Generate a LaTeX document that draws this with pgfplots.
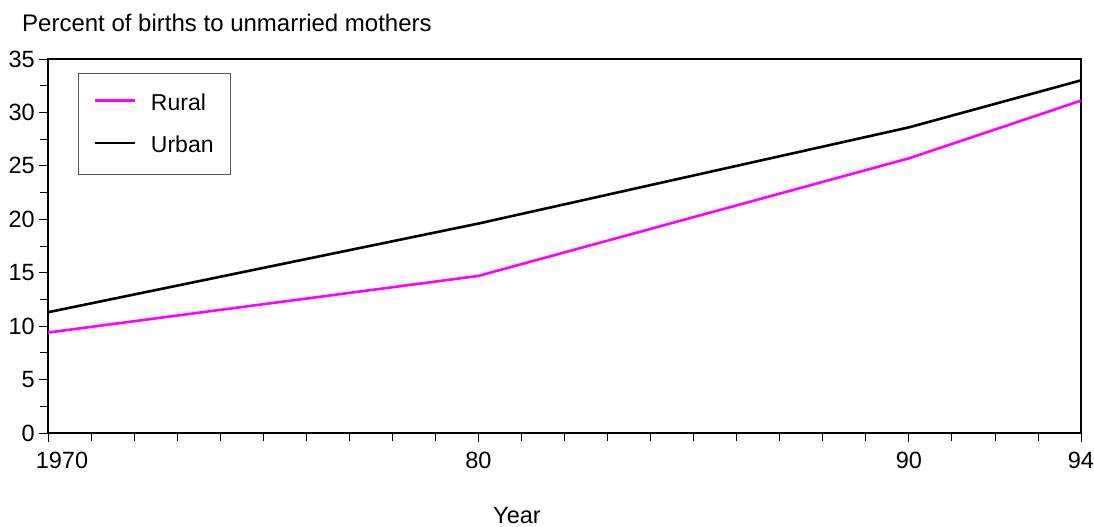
\documentclass[border=0pt]{standalone}
\usepackage{fontspec}
\setmainfont{Liberation Sans}
\usepackage{pgfplots}
\pgfplotsset{compat=1.18}
\definecolor{ruralpink}{RGB}{255,0,255}
\begin{document}
\begin{tikzpicture}
\begin{axis}[
  scale only axis, width=1033bp, height=374bp,
  xmin=1970, xmax=1994, ymin=0, ymax=35,
  axis line style={line width=1.2bp},
  xtick={1970,1980,1990,1994},
  xticklabels={\hspace*{28bp}1970,80,90,94},
  minor xtick={1971,...,1979,1981,1982,...,1989,1991,1992,1993},
  ytick={0,5,...,35},
  minor ytick={2.5,7.5,...,32.5},
  tick align=outside, tick pos=left,
  major tick length=9bp, minor tick length=8bp,
  every tick/.style={black, line width=0.8bp},
  /pgf/number format/assume math mode=true,
  tick label style={font=\fontsize{23.5bp}{28bp}\selectfont},
  xticklabel style={anchor=base, inner sep=0pt, yshift=-26bp},
  yticklabel style={anchor=east, inner sep=0pt, xshift=-4bp},
  xlabel={Year},
  xlabel style={at={(rel axis cs:0.454,0)}, anchor=base, inner sep=0pt, yshift=-90.5bp, font=\fontsize{23.5bp}{28bp}\selectfont},
  legend image code/.code={\draw[#1] (0bp,2bp) -- (40bp,2bp);},
  legend cell align=left,
  legend style={at={(rel axis cs:0.029,0.9626)}, anchor=north west, draw=black!65, line width=0.8bp,
    font=\fontsize{23bp}{27bp}\selectfont, inner xsep=15bp, inner ysep=18bp, row sep=20.5bp,
    /tikz/every odd column/.append style={column sep=13bp}},
]
\addplot[ruralpink, line width=2.6bp] coordinates {(1970,9.4) (1980,14.7) (1990,25.7) (1994,31.1)};
\addlegendentry{Rural}
\addplot[black, line width=2.6bp] coordinates {(1970,11.3) (1980,19.6) (1990,28.6) (1994,33.0)};
\addlegendentry{Urban}
\end{axis}
\node[anchor=base west, inner sep=0pt, font=\fontsize{24bp}{28bp}\selectfont] at (-26bp,401bp) {Percent of births to unmarried mothers};
\pgfresetboundingbox
\path[use as bounding box] (-48bp,-94bp) rectangle (1046bp,433bp);
\end{tikzpicture}
\end{document}
